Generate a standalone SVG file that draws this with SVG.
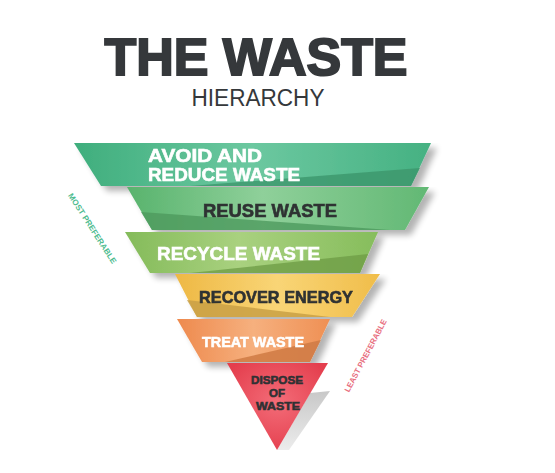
<svg xmlns="http://www.w3.org/2000/svg" width="555" height="473" viewBox="0 0 555 473">
<style>
.t{font-family:"Liberation Sans",Arial,sans-serif;font-weight:bold;text-anchor:middle}
.w{fill:#ffffff;stroke:#ffffff;stroke-width:0.6}
.d{fill:#2f3133;stroke:#2f3133;stroke-width:0.6}
.side{font-family:"Liberation Sans",Arial,sans-serif;font-weight:bold;font-size:8px;text-anchor:middle}
</style>
<defs>
<filter id="sh" x="-10%" y="-10%" width="130%" height="140%">
<feGaussianBlur in="SourceAlpha" stdDeviation="3"/>
<feOffset dx="6" dy="5" result="b"/>
<feComponentTransfer><feFuncA type="linear" slope="0.3"/></feComponentTransfer>
<feMerge><feMergeNode/><feMergeNode in="SourceGraphic"/></feMerge>
</filter>
<linearGradient id="g1" x1="0" x2="1" y1="0" y2="0">
<stop offset="0" stop-color="#3fae7d"/><stop offset="0.5" stop-color="#6cc8a0"/><stop offset="1" stop-color="#45b182"/>
</linearGradient>
<linearGradient id="g2" x1="0" x2="1" y1="0" y2="0">
<stop offset="0" stop-color="#58b36d"/><stop offset="0.45" stop-color="#8fd09a"/><stop offset="1" stop-color="#62b874"/>
</linearGradient>
<linearGradient id="g3" x1="0" x2="1" y1="0" y2="0">
<stop offset="0" stop-color="#84bb5a"/><stop offset="0.45" stop-color="#a9d17f"/><stop offset="1" stop-color="#86bd5c"/>
</linearGradient>
<linearGradient id="g4" x1="0" x2="1" y1="0" y2="0">
<stop offset="0" stop-color="#eeb844"/><stop offset="0.5" stop-color="#f9d576"/><stop offset="1" stop-color="#f0bd4a"/>
</linearGradient>
<linearGradient id="g5" x1="0" x2="1" y1="0" y2="0">
<stop offset="0" stop-color="#ee8a4e"/><stop offset="0.5" stop-color="#f6b07e"/><stop offset="1" stop-color="#ef9054"/>
</linearGradient>
<radialGradient id="g6" cx="0.5" cy="0.45" r="0.6">
<stop offset="0" stop-color="#f36c78"/><stop offset="1" stop-color="#e43e4d"/>
</radialGradient>
<linearGradient id="gs" x1="0" x2="0" y1="0" y2="1">
<stop offset="0" stop-color="#c8c8c8"/><stop offset="1" stop-color="#ececec"/>
</linearGradient>
</defs>

<g id="title">
<text class="t" x="256" y="75" font-size="52" textLength="303" lengthAdjust="spacingAndGlyphs" fill="#35383b" stroke="#35383b" stroke-width="2">THE WASTE</text>
<text x="258" y="106" font-family="'Liberation Sans',Arial,sans-serif" font-size="23" text-anchor="middle" textLength="133" lengthAdjust="spacingAndGlyphs" fill="#35383b">HIERARCHY</text>
</g>

<g id="shadow-dispose">
<polygon points="310,393 330,391 289,450 277,450" fill="url(#gs)"/>
</g>

<g id="avoid" filter="url(#sh)">
<polygon points="74,143 431,143 411,186 101,186" fill="url(#g1)"/>
<polygon points="190,186 420,168 411,186" fill="#3c966b" opacity="0.8"/>
<text class="t w" x="148" y="162" font-size="19" style="text-anchor:start" textLength="114" lengthAdjust="spacingAndGlyphs">AVOID AND</text>
<text class="t w" x="148" y="181" font-size="19" style="text-anchor:start" textLength="152" lengthAdjust="spacingAndGlyphs">REDUCE WASTE</text>
</g>

<g id="reuse" filter="url(#sh)">
<polygon points="127,187 429,187 405,230 152,230" fill="url(#g2)"/>
<polygon points="141,212 390,230 152,230" fill="#4d9a5e" opacity="0.8"/>
<text class="t d" x="203" y="217" font-size="18" style="text-anchor:start" textLength="134" lengthAdjust="spacingAndGlyphs">REUSE WASTE</text>
</g>

<g id="recycle" filter="url(#sh)">
<polygon points="125,232 378,232 360,273 150,273" fill="url(#g3)"/>
<polygon points="190,273 368,254 360,273" fill="#6f9e47" opacity="0.8"/>
<text class="t w" x="157" y="260" font-size="19" style="text-anchor:start" textLength="163" lengthAdjust="spacingAndGlyphs">RECYCLE WASTE</text>
</g>

<g id="recover" filter="url(#sh)">
<polygon points="175,274 380,274 352,317 197,317" fill="url(#g4)"/>
<polygon points="187,300 330,317 197,317" fill="#c9a045" opacity="0.85"/>
<text class="t d" x="199" y="303" font-size="17" style="text-anchor:start" textLength="154" lengthAdjust="spacingAndGlyphs">RECOVER ENERGY</text>
</g>

<g id="treat" filter="url(#sh)">
<polygon points="177,319 330,319 310,362 202,362" fill="url(#g5)"/>
<polygon points="225,362 321,340 310,362" fill="#cf7a44" opacity="0.85"/>
<text class="t w" x="202" y="347" font-size="15" style="text-anchor:start" textLength="102" lengthAdjust="spacingAndGlyphs">TREAT WASTE</text>
</g>

<g id="dispose">
<polygon points="227,363 328,363 277,450" fill="url(#g6)"/>
<text class="t d" x="277" y="384" font-size="11.5" textLength="52" lengthAdjust="spacingAndGlyphs">DISPOSE</text>
<text class="t d" x="277" y="397" font-size="11.5">OF</text>
<text class="t d" x="278" y="410" font-size="11.5" textLength="44" lengthAdjust="spacingAndGlyphs">WASTE</text>
</g>

<g id="most-preferable">
<text class="side" transform="translate(90,230) rotate(57)" fill="#4cbb8e" textLength="82" lengthAdjust="spacingAndGlyphs">MOST PREFERABLE</text>
</g>
<g id="least-preferable">
<text class="side" transform="translate(368,357) rotate(-62)" fill="#e8707f" textLength="81" lengthAdjust="spacingAndGlyphs">LEAST PREFERABLE</text>
</g>
</svg>
